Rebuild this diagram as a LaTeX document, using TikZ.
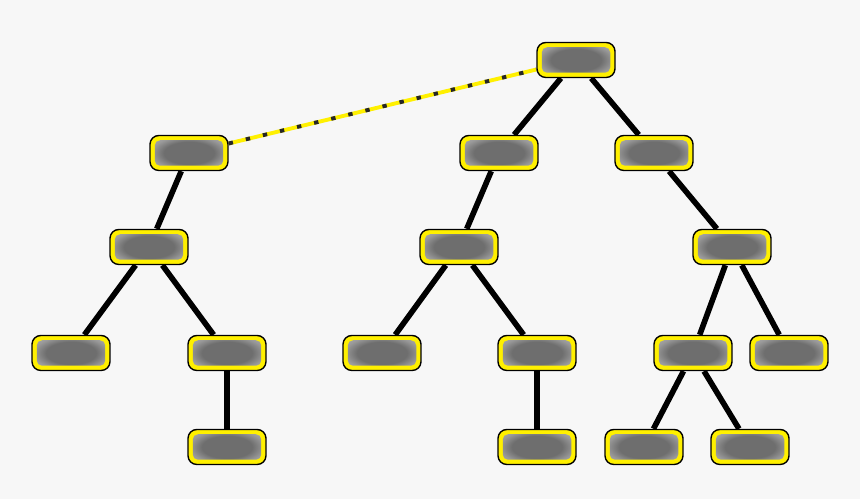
\documentclass[tikz,border=0pt]{standalone}
\usepackage{tikz}
\usetikzlibrary{backgrounds}
\definecolor{pagebg}{HTML}{F7F7F7}
\definecolor{boxyellow}{HTML}{FFF000}
\pgfdeclareradialshading{boxglow}{\pgfpoint{0bp}{0bp}}{%
    color(0bp)=(black!57); color(16bp)=(black!57); color(24bp)=(black!40);
    color(36bp)=(black!25); color(50bp)=(black!25)}

\begin{document}
\begin{tikzpicture}[x=0.02cm, y=-0.02cm,
    box/.style={draw=black, line width=0.8pt, fill=boxyellow, rounded corners=5pt,
        minimum width=1.56cm, minimum height=0.7cm, inner sep=0pt,
        path picture={\shade[rounded corners=3pt, shading=boxglow]
            ([shift={(2.7pt,2.7pt)}]path picture bounding box.south west) rectangle
            ([shift={(-2.7pt,-2.7pt)}]path picture bounding box.north east);}},
    link/.style={line width=3.2pt}]
    % Root
    \node[box] (T0) at (576,60) {};

    % First level
    \node[box] (A1) at (189,153) {};
    \node[box] (B1) at (499,153) {};
    \node[box] (C1) at (654,153) {};

    % Second level
    \node[box] (A2) at (149,247) {};
    \node[box] (B2) at (459,247) {};
    \node[box] (C2) at (732,247) {};

    % Third level
    \node[box] (A3) at (71,353) {};
    \node[box] (A4) at (227,353) {};
    \node[box] (B3) at (382,353) {};
    \node[box] (B4) at (537,353) {};
    \node[box] (C3) at (693,353) {};
    \node[box] (C4) at (789,353) {};

    % Leaves
    \node[box] (A5) at (227,447) {};
    \node[box] (B5) at (537,447) {};
    \node[box] (C5) at (644,447) {};
    \node[box] (C6) at (750,447) {};

    % Links behind the boxes
    \begin{scope}[on background layer]
        \fill[pagebg] (0,0) rectangle (860,499);
        \draw[boxyellow, line width=2.2pt] (A1) -- (T0);
        \draw[black!85, line width=2.2pt, dash pattern=on 2.5pt off 7.5pt] (A1) -- (T0);
        \draw[link] (T0) -- (B1);
        \draw[link] (T0) -- (C1);
        \draw[link] (A1) -- (A2);
        \draw[link] (A2) -- (A3);
        \draw[link] (A2) -- (A4);
        \draw[link] (A4) -- (A5);
        \draw[link] (B1) -- (B2);
        \draw[link] (B2) -- (B3);
        \draw[link] (B2) -- (B4);
        \draw[link] (B4) -- (B5);
        \draw[link] (C1) -- (C2);
        \draw[link] (C2) -- (C3);
        \draw[link] (C2) -- (C4);
        \draw[link] (C3) -- (C5);
        \draw[link] (C3) -- (C6);
    \end{scope}
\end{tikzpicture}
\end{document}
